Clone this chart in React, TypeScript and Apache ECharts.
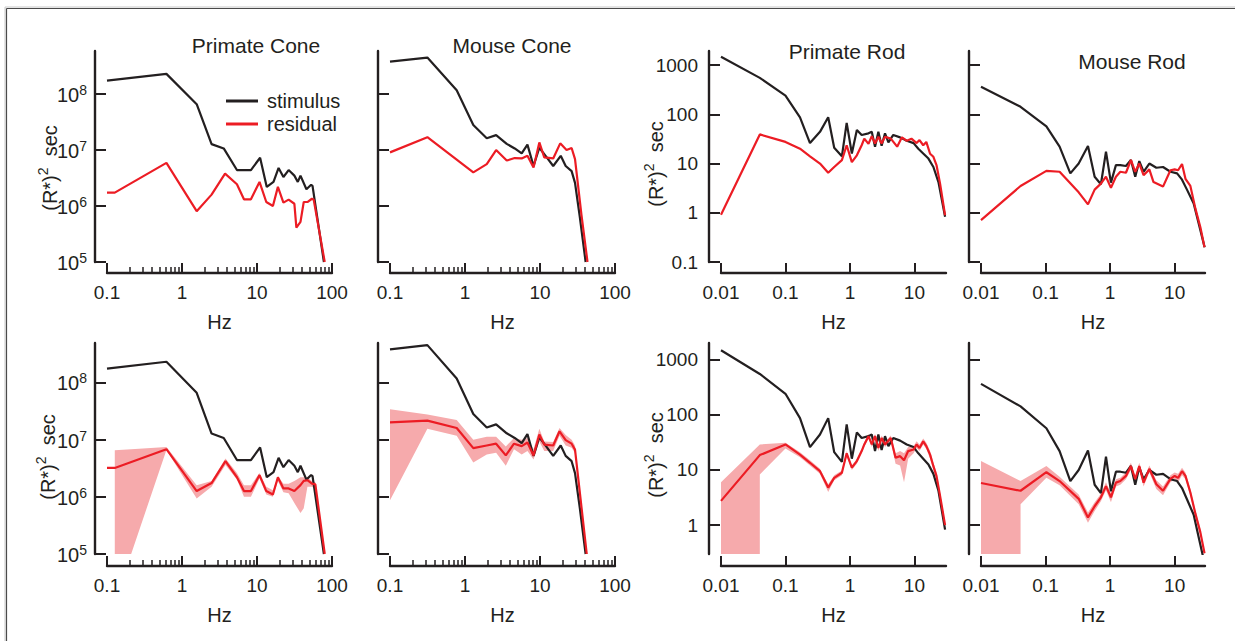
import React, { useEffect, useRef } from 'react';
import * as echarts from 'echarts';

const FONT = "'Liberation Sans', Arial, Helvetica, sans-serif";
const BLACK = '#231f20';
const RED = '#ec1c24';
const PINK = '#f6aaac';

// ---------- tick labels ----------
const coneXTicks = [0.1, 1, 10, 100];
const coneXMinorTicks = [0.2, 0.3, 0.4, 0.5, 0.6, 0.7, 0.8, 0.9, 2, 3, 4, 5, 6, 7, 8, 9, 20, 30, 40, 50, 60, 70, 80, 90];
const rodXTicks = [0.01, 0.1, 1, 10];
const coneYTicks = [1e5, 1e6, 1e7, 1e8];
const rodYTicks = [0.1, 1, 10, 100, 1000];

// ---------- axis ranges ----------
const coneXRange = [0.1, 100];
const primateRodXRange = [0.01, 30.9];
const mouseRodXRange = [0.01, 29.5];
const coneYRangeTop = [1e5, 5.9e8];
const coneYRangeBottom = [1e5, 4.9e8];
const rodYRangeTop = [0.1, 1930];
const rodYRangeBottom = [0.3, 2000];

// ---------- Primate cone ----------
const pcStimHz = [0.1, 0.62, 1.57, 2.48, 3.6, 5.4, 6.7, 8.3, 11, 13.5, 16.6, 19.4, 22.5, 26.4, 31.5, 35, 38, 45.6, 52.7, 55, 78];
const pcStimPow = [1.74e8, 2.3e8, 6.6e7, 1.28e7, 1.07e7, 4.4e6, 4.4e6, 4.4e6, 7.3e6, 2.2e6, 2.7e6, 4.8e6, 3.3e6, 4.4e6, 3.5e6, 2.7e6, 3.5e6, 2.0e6, 2.4e6, 2.3e6, 1e5];
const pcResHz = [0.1, 0.127, 0.62, 1.57, 2.48, 3.75, 5.4, 6.7, 8.3, 10.8, 13.3, 16.3, 19, 22.5, 26.4, 31.5, 33.5, 38, 42, 47, 54, 57, 80];
const pcResPow = [1.74e6, 1.74e6, 5.9e6, 8.1e5, 1.6e6, 3.8e6, 2.45e6, 1.32e6, 1.32e6, 2.7e6, 1.18e6, 1.0e6, 2.2e6, 1.15e6, 1.3e6, 1.1e6, 4.1e5, 5.2e5, 1.18e6, 1.18e6, 1.35e6, 1.3e6, 1e5];
const pcMeanHz = [0.1, 0.127, 0.62, 1.57, 2.48, 3.8, 5.4, 6.7, 8.3, 10.8, 13.3, 16.3, 19, 22.5, 26.4, 31.5, 38, 42, 47, 54, 60, 80];
const pcMeanPow = [3.2e6, 3.2e6, 6.8e6, 1.26e6, 1.74e6, 4.2e6, 2.2e6, 1.26e6, 1.26e6, 2.4e6, 1.26e6, 1.1e6, 2.2e6, 1.4e6, 1.4e6, 1.26e6, 1.6e6, 1.9e6, 1.95e6, 1.7e6, 1.65e6, 1e5];
const pcBandHz = [0.127, 0.21, 0.62, 1.57, 2.48, 3.8, 5.4, 6.7, 8.3, 10.8, 13.3, 16.3, 19, 22.5, 26.4, 31.5, 38, 42, 47, 54, 60, 80];
const pcBandUpper = [6.5e6, 6.8e6, 7.4e6, 1.6e6, 1.9e6, 4.7e6, 2.6e6, 1.6e6, 1.6e6, 2.6e6, 1.5e6, 1.3e6, 2.3e6, 1.7e6, 1.7e6, 1.9e6, 2.2e6, 2.2e6, 2.2e6, 1.9e6, 1.8e6, 1.05e5];
const pcBandLower = [1e5, 1e5, 6.6e6, 9.3e5, 1.5e6, 3.6e6, 2.0e6, 1.0e6, 1.0e6, 2.1e6, 1.1e6, 1.0e6, 1.9e6, 1.2e6, 1.15e6, 7.8e5, 5.2e5, 6.3e5, 1.5e6, 1.5e6, 1.4e6, 9.5e4];

// ---------- Mouse cone ----------
const mcStimHz = [0.1, 0.315, 0.775, 1.29, 1.95, 2.6, 3.6, 4.6, 5.7, 6.8, 8.2, 9.8, 12.3, 15, 18.9, 22, 26.4, 29.3, 34, 40.6];
const mcStimPow = [3.8e8, 4.5e8, 1.17e8, 2.8e7, 1.63e7, 1.85e7, 1.29e7, 1.07e7, 8.7e6, 1.25e7, 5.2e6, 1.1e7, 7.4e6, 5.2e6, 7.9e6, 5.2e6, 4.2e6, 2.6e6, 6.3e5, 1e5];
const mcResHz = [0.1, 0.315, 1.29, 1.95, 2.6, 3.6, 4.6, 5.7, 6.8, 8.2, 9.8, 11.4, 15, 18.6, 22.6, 26.4, 29.3, 35.6, 43];
const mcResPow = [9.1e6, 1.7e7, 4.0e6, 5.6e6, 1.0e7, 6.5e6, 7.2e6, 7.1e6, 7.9e6, 4.9e6, 1.37e7, 7.4e6, 7.1e6, 1.32e7, 1.0e7, 1.09e7, 6.9e6, 7.2e5, 1e5];
const mcMeanHz = [0.1, 0.315, 0.775, 1.29, 1.95, 2.6, 3.5, 4.5, 5.7, 6.8, 8.2, 9.8, 11.4, 15, 18.2, 22, 26.4, 29.3, 35.6, 42];
const mcMeanPow = [2.0e7, 2.15e7, 1.6e7, 7.1e6, 7.9e6, 8.5e6, 5.3e6, 8.5e6, 7.7e6, 8.9e6, 5.3e6, 1.23e7, 8.2e6, 7.9e6, 1.4e7, 9.8e6, 8.5e6, 6.7e6, 6.9e5, 1e5];
const mcBandUpper = [3.4e7, 2.75e7, 2.2e7, 1.0e7, 1.12e7, 1.12e7, 7.6e6, 1.07e7, 1.0e7, 1.07e7, 6.8e6, 1.55e7, 9.3e6, 9.1e6, 1.6e7, 1.2e7, 1.0e7, 7.9e6, 8e5, 1.1e5];
const mcBandLower = [8.7e5, 1.55e7, 1.17e7, 4.0e6, 5.5e6, 5.9e6, 3.5e6, 6.8e6, 5.5e6, 6.3e6, 4.5e6, 9.3e6, 6.3e6, 6.3e6, 1.17e7, 7.9e6, 7.2e6, 5.8e6, 6.0e5, 9e4];

// ---------- Primate rod ----------
const prStimHz = [0.01, 0.04, 0.1, 0.168, 0.24, 0.343, 0.46, 0.57, 0.75, 0.89, 1.07, 1.28, 1.52, 1.94, 2.18, 2.45, 2.76, 3.1, 3.5, 3.95, 4.7, 6.0, 7.6, 9.7, 11.5, 13.7, 16.5, 19.7, 23.6, 29.9];
const prStimPow = [1480, 550, 240, 87, 26, 44, 87, 21, 14, 67, 16, 48, 38, 41, 44, 22, 44, 23, 41, 27, 38, 34, 29, 26, 20, 16, 12.6, 8.5, 4.2, 0.83];
const prResHz = [0.01, 0.04, 0.1, 0.168, 0.24, 0.343, 0.46, 0.57, 0.75, 0.89, 1.07, 1.28, 1.52, 1.67, 1.94, 2.18, 2.45, 2.76, 3.1, 3.5, 4.3, 5.4, 6.4, 7.6, 9.0, 10.8, 12, 13.7, 15.3, 17.5, 19.7, 22, 25, 29.9];
const prResPow = [0.91, 39, 27.5, 20, 14, 10, 6.5, 8.5, 11.7, 23.5, 10.7, 14.7, 23.5, 32, 25, 36, 25.6, 35, 25.6, 35, 32, 22, 34, 29, 32, 26, 30, 23.5, 27.5, 15.8, 13.7, 9.3, 3.9, 0.89];
const prMeanHz = [0.01, 0.04, 0.1, 0.168, 0.24, 0.343, 0.46, 0.57, 0.75, 0.89, 1.07, 1.28, 1.52, 1.67, 1.94, 2.18, 2.45, 2.76, 3.1, 3.5, 4.3, 5.1, 6.0, 6.9, 8.0, 9.7, 10.8, 12, 13.7, 15.3, 17.5, 19.7, 22, 25, 29.9];
const prMeanPow = [2.75, 18.6, 29, 19, 13.5, 9.5, 4.8, 7.2, 8.9, 20, 11, 14.5, 22, 29, 41, 29, 41, 25, 38, 29, 38, 16.6, 17.8, 15, 22, 23.5, 29, 25, 33, 27, 19, 11.7, 7.8, 3.4, 1.0];
const prBandHz = [0.01, 0.04, 0.04, 0.1, 0.168, 0.24, 0.343, 0.46, 0.57, 0.75, 0.89, 1.07, 1.28, 1.52, 1.67, 1.94, 2.18, 2.45, 2.76, 3.1, 3.5, 4.3, 5.1, 6.0, 6.9, 8.0, 9.7, 10.8, 12, 13.7, 15.3, 17.5, 19.7, 22, 25, 29.9];
const prBandUpper = [6.0, 29, 29, 31, 21, 15, 10.5, 5.5, 8, 9.8, 22, 12, 16, 24, 32, 45, 32, 45, 28, 42, 32, 42, 20, 22, 20, 26, 27, 33, 29, 37, 31, 22, 13.5, 9, 3.9, 1.1];
const prBandLower = [0.3, 0.3, 8.3, 24.5, 17, 12, 8.5, 4.0, 6.5, 8, 18, 10, 13, 20, 26, 37, 26, 37, 22, 34, 26, 34, 13, 12, 6, 16, 20, 25, 22, 29, 24, 16, 10, 6.8, 3.0, 0.9];

// ---------- Mouse rod ----------
const mrStimHz = [0.01, 0.041, 0.103, 0.165, 0.242, 0.326, 0.454, 0.576, 0.72, 0.863, 1.03, 1.23, 1.44, 1.76, 2.1, 2.45, 2.83, 3.3, 4.05, 5.2, 6.6, 8.6, 10.9, 13.0, 15.5, 19.7, 23.5, 29.1];
const mrStimPow = [363, 142, 57, 22, 6.3, 10, 22.6, 5.4, 3.8, 17.5, 4.1, 9.3, 9.3, 8.9, 11.8, 5.4, 11.2, 6.8, 10, 8.2, 8.5, 6.8, 6.3, 4.7, 2.95, 1.54, 0.61, 0.20];
const mrResHz = [0.01, 0.041, 0.103, 0.165, 0.326, 0.454, 0.576, 0.72, 0.863, 1.03, 1.23, 1.44, 1.76, 2.1, 2.45, 2.83, 3.3, 4.05, 4.7, 6.6, 8.6, 10, 11.3, 13, 14.7, 17.5, 21, 25, 29];
const mrResPow = [0.71, 3.5, 7.1, 6.8, 2.6, 1.48, 2.95, 3.9, 5.4, 3.2, 5.4, 6.8, 6.5, 11.8, 6.8, 10, 5.8, 7.6, 4.2, 3.4, 7.3, 7.6, 7.3, 9.8, 4.9, 3.5, 1.2, 0.51, 0.20];
const mrMeanHz = [0.01, 0.041, 0.103, 0.165, 0.326, 0.454, 0.576, 0.72, 0.863, 1.03, 1.23, 1.44, 1.76, 2.1, 2.45, 2.83, 3.3, 4.05, 5.2, 6.6, 8.6, 10, 11.3, 13, 14.7, 17.5, 21, 25, 29];
const mrMeanPow = [5.8, 4.2, 9.1, 6.3, 3.0, 1.38, 2.2, 3.2, 5.1, 3.2, 5.9, 6.3, 7.8, 11.8, 6.8, 11.8, 5.9, 10.5, 5.5, 4.2, 6.9, 7.8, 7.2, 9.5, 7.8, 3.9, 1.6, 0.74, 0.31];
const mrBandHz = [0.01, 0.041, 0.041, 0.103, 0.165, 0.326, 0.454, 0.576, 0.72, 0.863, 1.03, 1.23, 1.44, 1.76, 2.1, 2.45, 2.83, 3.3, 4.05, 5.2, 6.6, 8.6, 10, 11.3, 13, 14.7, 17.5, 21, 25, 29];
const mrBandUpper = [14.5, 6.3, 6.3, 11.8, 7.5, 3.6, 1.7, 2.6, 3.7, 6.0, 3.8, 6.8, 7.2, 9, 13.5, 7.8, 13.5, 6.8, 12, 6.5, 5, 8, 9, 8.5, 11, 9, 4.5, 1.8, 0.85, 0.33];
const mrBandLower = [0.3, 0.3, 2.4, 7.2, 5.3, 2.4, 1.1, 1.8, 2.7, 4.3, 2.6, 5.0, 5.4, 6.8, 10, 5.8, 10, 5, 9, 4.5, 3.5, 6, 6.8, 6, 8, 6.8, 3.4, 1.4, 0.65, 0.29];

const titles = ['Primate Cone', 'Mouse Cone', 'Primate Rod', 'Mouse Rod'];
const legendNames = ['stimulus', 'residual'];

// ---------- layout ----------
const layout = [
  { left: 107, top: 51, width: 225, height: 211, xOff: 11 },
  { left: 390, top: 51, width: 225, height: 211, xOff: 11 },
  { left: 721, top: 51, width: 225, height: 211, xOff: 11 },
  { left: 981, top: 51, width: 224, height: 211, xOff: 11 },
  { left: 107, top: 343, width: 225, height: 211, xOff: 12 },
  { left: 390, top: 343, width: 225, height: 211, xOff: 12 },
  { left: 721, top: 343, width: 225, height: 211, xOff: 12 },
  { left: 981, top: 343, width: 224, height: 211, xOff: 12 },
];
const titlePos = [[256, 45], [512, 45], [847, 51], [1132, 61]];
const yNamePos = [[48, 168], [654, 164], [46, 457], [654, 455]];

const L = (v: number) => Math.log10(v);

type PanelSpec = {
  kind: 'cone' | 'rod';
  xRange: number[];
  yRange: number[];
  yLabels: boolean;
  stim: [number[], number[]];
  res: [number[], number[]];
  band?: [number[], number[], number[]];
};

const panels: PanelSpec[] = [
  { kind: 'cone', xRange: coneXRange, yRange: coneYRangeTop, yLabels: true, stim: [pcStimHz, pcStimPow], res: [pcResHz, pcResPow] },
  { kind: 'cone', xRange: coneXRange, yRange: coneYRangeTop, yLabels: false, stim: [mcStimHz, mcStimPow], res: [mcResHz, mcResPow] },
  { kind: 'rod', xRange: primateRodXRange, yRange: rodYRangeTop, yLabels: true, stim: [prStimHz, prStimPow], res: [prResHz, prResPow] },
  { kind: 'rod', xRange: mouseRodXRange, yRange: rodYRangeTop, yLabels: false, stim: [mrStimHz, mrStimPow], res: [mrResHz, mrResPow] },
  { kind: 'cone', xRange: coneXRange, yRange: coneYRangeBottom, yLabels: true, stim: [pcStimHz, pcStimPow], res: [pcMeanHz, pcMeanPow], band: [pcBandHz, pcBandLower, pcBandUpper] },
  { kind: 'cone', xRange: coneXRange, yRange: coneYRangeBottom, yLabels: false, stim: [mcStimHz, mcStimPow], res: [mcMeanHz, mcMeanPow], band: [mcMeanHz, mcBandLower, mcBandUpper] },
  { kind: 'rod', xRange: primateRodXRange, yRange: rodYRangeBottom, yLabels: true, stim: [prStimHz, prStimPow], res: [prMeanHz, prMeanPow], band: [prBandHz, prBandLower, prBandUpper] },
  { kind: 'rod', xRange: mouseRodXRange, yRange: rodYRangeBottom, yLabels: false, stim: [mrStimHz, mrStimPow], res: [mrMeanHz, mrMeanPow], band: [mrBandHz, mrBandLower, mrBandUpper] },
];

function tickLabel(ticks: number[], v: number) {
  for (const t of ticks) if (Math.abs(L(t) - v) < 1e-6) return String(t);
  return '';
}

function buildOption() {
  const grid: any[] = [];
  const xAxis: any[] = [];
  const yAxis: any[] = [];
  const series: any[] = [];
  const minorAxes: any[] = [];

  panels.forEach((p, i) => {
    const g = layout[i];
    grid.push({ left: g.left, top: g.top, width: g.width, height: g.height, containLabel: false });
    const xTicks = p.kind === 'cone' ? coneXTicks : rodXTicks;
    const yTicks = p.kind === 'cone' ? coneYTicks : rodYTicks;
    const xMin = L(p.xRange[0]);
    const xMax = L(p.xRange[1]);
    const yMin = L(p.yRange[0]);
    const yMax = L(p.yRange[1]);
    const xVals = xTicks.map(L);
    const yVals = yTicks.map(L).filter((v) => v >= yMin - 1e-9 && v <= yMax + 1e-9);

    xAxis.push({
      type: 'value', gridIndex: i, min: xMin, max: xMax, position: 'bottom', offset: g.xOff,
      axisLine: { show: true, onZero: false, lineStyle: { color: BLACK, width: 2.4 } },
      axisTick: { show: true, inside: true, length: 10, customValues: xVals, lineStyle: { color: BLACK, width: 2 } },
      axisLabel: {
        show: true, customValues: xVals, margin: 10, fontSize: 19, fontFamily: FONT, color: BLACK,
        formatter: (v: number) => tickLabel(xTicks, v),
      },
      splitLine: { show: false },
      name: 'Hz', nameLocation: 'middle', nameGap: 39,
      nameTextStyle: { fontSize: 20, fontFamily: FONT, color: BLACK },
    });
    if (p.kind === 'cone') {
      minorAxes.push({
        type: 'value', gridIndex: i, min: xMin, max: xMax, position: 'bottom', offset: g.xOff,
        axisLine: { show: false, onZero: false },
        axisTick: { show: true, inside: true, length: 6, customValues: coneXMinorTicks.map(L), lineStyle: { color: BLACK, width: 1.5 } },
        axisLabel: { show: false },
        splitLine: { show: false },
      });
    }
    yAxis.push({
      type: 'value', gridIndex: i, min: yMin, max: yMax, position: 'left', offset: 12,
      axisLine: { show: true, onZero: false, lineStyle: { color: BLACK, width: 2.4 } },
      axisTick: { show: true, inside: true, length: 11, customValues: yVals, lineStyle: { color: BLACK, width: 2 } },
      axisLabel: {
        show: p.yLabels, customValues: yVals, margin: p.kind === 'cone' ? 8 : 11,
        fontSize: 19, fontFamily: FONT, color: BLACK,
        formatter: (v: number) => (p.kind === 'cone' ? `{b|10}{s|${Math.round(v)}}` : tickLabel(yTicks, v)),
        rich: {
          b: { fontSize: 20, fontFamily: FONT, color: BLACK, lineHeight: 22, verticalAlign: 'bottom' },
          s: { fontSize: 14, fontFamily: FONT, color: BLACK, lineHeight: 12, verticalAlign: 'top' },
        },
      },
      splitLine: { show: false },
    });

    if (p.band) {
      const [bf, lo, up] = p.band;
      const bandData = bf.map((x, j) => [L(x), L(lo[j]), L(up[j])]);
      series.push({
        type: 'custom', xAxisIndex: i, yAxisIndex: i, silent: true, z: 1,
        data: bandData,
        encode: { x: 0, y: [1, 2] },
        renderItem: (params: any, api: any) => {
          if (params.dataIndex !== 0) return null;
          const upperPts = bandData.map((d) => api.coord([d[0], d[2]]));
          const lowerPts = bandData.map((d) => api.coord([d[0], d[1]])).reverse();
          const cs = params.coordSys;
          return {
            type: 'polygon',
            shape: { points: upperPts.concat(lowerPts) },
            style: { fill: PINK, stroke: 'none' },
            clipPath: { type: 'rect', shape: { x: cs.x, y: cs.y, width: cs.width, height: cs.height } },
          };
        },
      });
    }
    series.push({
      name: legendNames[0], type: 'line', xAxisIndex: i, yAxisIndex: i,
      data: p.stim[0].map((x, j) => [L(x), L(p.stim[1][j])]), symbol: 'none', showSymbol: false,
      color: BLACK, lineStyle: { color: BLACK, width: 2.2 }, silent: true, z: 3,
    });
    series.push({
      name: legendNames[1], type: 'line', xAxisIndex: i, yAxisIndex: i,
      data: p.res[0].map((x, j) => [L(x), L(p.res[1][j])]), symbol: 'none', showSymbol: false,
      color: RED, lineStyle: { color: RED, width: 2.2 }, silent: true, z: 4,
    });
  });

  const richName = {
    b: { fontSize: 20, fontFamily: FONT, fill: BLACK, color: BLACK, lineHeight: 24, verticalAlign: 'bottom' },
    s: { fontSize: 14, fontFamily: FONT, fill: BLACK, color: BLACK, lineHeight: 12, verticalAlign: 'top' },
  };

  const graphic: any[] = [
    { type: 'line', shape: { x1: 5, y1: 7, x2: 1235, y2: 7 }, style: { stroke: '#c8c8c8', lineWidth: 1 }, silent: true },
    { type: 'line', shape: { x1: 5, y1: 7, x2: 5, y2: 641 }, style: { stroke: '#c8c8c8', lineWidth: 1 }, silent: true },
    { type: 'line', shape: { x1: 6.5, y1: 8.5, x2: 1235, y2: 8.5 }, style: { stroke: '#4a4a4a', lineWidth: 1.2 }, silent: true },
    { type: 'line', shape: { x1: 6.5, y1: 8.5, x2: 6.5, y2: 641 }, style: { stroke: '#4a4a4a', lineWidth: 1.2 }, silent: true },
  ];
  titles.forEach((t, k) => {
    graphic.push({
      type: 'text', x: titlePos[k][0], y: titlePos[k][1], silent: true,
      style: { text: t, fill: BLACK, font: `21px ${FONT}`, textAlign: 'center', textVerticalAlign: 'middle', align: 'center', verticalAlign: 'middle' },
    });
  });
  yNamePos.forEach((pos) => {
    graphic.push({
      type: 'text', x: pos[0], y: pos[1], rotation: Math.PI / 2, silent: true,
      style: {
        text: '{b|(R*)}{s|2}{b|  sec}', rich: richName, fill: BLACK, font: `20px ${FONT}`,
        textAlign: 'center', textVerticalAlign: 'middle', align: 'center', verticalAlign: 'middle',
      },
    });
  });

  return {
    animation: false,
    backgroundColor: '#ffffff',
    textStyle: { fontFamily: FONT, color: BLACK },
    legend: {
      data: legendNames, orient: 'vertical', left: 226, top: 91, padding: 0, itemWidth: 32, itemHeight: 3, itemGap: 3,
      icon: 'rect', selectedMode: false,
      textStyle: { fontSize: 20, fontFamily: FONT, color: BLACK, padding: [0, 0, 0, 4], lineHeight: 20 },
    },
    grid,
    xAxis: xAxis.concat(minorAxes),
    yAxis,
    series,
    graphic,
  };
}

export default function App() {
  const ref = useRef<HTMLDivElement>(null);
  useEffect(() => {
    const chart = echarts.init(ref.current as HTMLDivElement, null, { renderer: 'svg' });
    chart.setOption(buildOption() as any);
    return () => chart.dispose();
  }, []);
  return (
    <div
      ref={ref}
      style={{ position: 'fixed', left: 0, top: 0, width: '1235px', height: '641px', background: '#fff' }}
    />
  );
}
